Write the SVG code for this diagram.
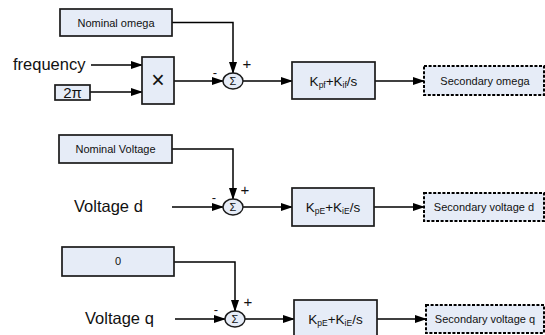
<svg xmlns="http://www.w3.org/2000/svg" width="545" height="335" viewBox="0 0 545 335">
<defs>
<marker id="ah" markerWidth="12" markerHeight="8" refX="11" refY="4" orient="auto" markerUnits="userSpaceOnUse">
<path d="M0,0 L12,4 L0,8 Z" fill="#000"/>
</marker>
<style>
.box{fill:#E6ECF7;stroke:#1a1a1a;stroke-width:1.7}
.dbox{fill:#E6ECF7;stroke:#000;stroke-width:2;stroke-dasharray:3 1.6}
.sum{fill:#E6ECF7;stroke:#1a1a1a;stroke-width:1.4}
.ln{fill:none;stroke:#000;stroke-width:1.5;marker-end:url(#ah)}
.t{font-family:"Liberation Sans",Arial,sans-serif;fill:#111}
.s11{font-size:11px}
.s13{font-size:13.5px}
.big{font-size:16.5px}
.sub{font-size:8.5px}
</style>
</defs>
<rect width="545" height="335" fill="#fff"/>

<g id="connectors">
<polyline class="ln" points="172,22.5 233,22.5 233,73"/>
<line class="ln" x1="91" y1="65" x2="142" y2="65"/>
<line class="ln" x1="90" y1="92" x2="142" y2="92"/>
<line class="ln" x1="174" y1="81" x2="223" y2="81"/>
<line class="ln" x1="243" y1="81" x2="292" y2="81"/>
<line class="ln" x1="375" y1="81" x2="424" y2="81"/>

<polyline class="ln" points="172,149 233,149 233,199"/>
<line class="ln" x1="172" y1="207" x2="223" y2="207"/>
<line class="ln" x1="243" y1="207" x2="292" y2="207"/>
<line class="ln" x1="374" y1="207" x2="424" y2="207"/>

<polyline class="ln" points="174,262 235,262 235,311"/>
<line class="ln" x1="175" y1="319" x2="225" y2="319"/>
<line class="ln" x1="245" y1="319" x2="294" y2="319"/>
<line class="ln" x1="377" y1="319" x2="426" y2="319"/>
</g>

<g id="nominal-omega"><rect class="box" x="60" y="9" width="112" height="27"/><text class="t s11" x="116" y="26.5" text-anchor="middle">Nominal omega</text></g>
<g id="frequency"><text class="t big" x="13" y="70">frequency</text></g>
<g id="two-pi"><rect class="box" x="55" y="85" width="35" height="15"/><text class="t" font-size="15" x="72.5" y="98" text-anchor="middle">2π</text></g>
<g id="multiply"><rect class="box" x="142" y="57" width="32" height="47"/><text class="t" font-size="23" x="158" y="88" text-anchor="middle">×</text></g>
<g id="sum1"><ellipse class="sum" cx="233" cy="81" rx="10" ry="8"/><text class="t" font-size="11" x="233" y="85" text-anchor="middle">Σ</text><text class="t" font-size="13" x="215" y="77" text-anchor="middle">-</text><text class="t" font-size="15" x="247" y="69" text-anchor="middle">+</text></g>
<g id="pi1"><rect class="box" x="292" y="62" width="83" height="37"/><text class="t s13" x="333.5" y="85.5" text-anchor="middle">K<tspan class="sub" dy="2">pf</tspan><tspan dy="-2">+K</tspan><tspan class="sub" dy="2">if</tspan><tspan dy="-2">/s</tspan></text></g>
<g id="sec-omega"><rect class="dbox" x="424" y="66" width="120" height="29"/><text class="t s11" x="485" y="84.5" text-anchor="middle">Secondary omega</text></g>

<g id="nominal-voltage"><rect class="box" x="59" y="135" width="113" height="28"/><text class="t s11" x="115.5" y="153" text-anchor="middle">Nominal Voltage</text></g>
<g id="voltage-d"><text class="t big" x="74" y="212">Voltage d</text></g>
<g id="sum2"><ellipse class="sum" cx="233" cy="207" rx="10" ry="8"/><text class="t" font-size="11" x="233" y="211" text-anchor="middle">Σ</text><text class="t" font-size="13" x="214" y="202" text-anchor="middle">-</text><text class="t" font-size="15" x="245" y="195" text-anchor="middle">+</text></g>
<g id="pi2"><rect class="box" x="292" y="188" width="82" height="38"/><text class="t s13" x="333" y="211.5" text-anchor="middle">K<tspan class="sub" dy="2">pE</tspan><tspan dy="-2">+K</tspan><tspan class="sub" dy="2">iE</tspan><tspan dy="-2">/s</tspan></text></g>
<g id="sec-voltage-d"><rect class="dbox" x="424" y="193" width="120" height="28"/><text class="t s11" x="484" y="211" text-anchor="middle">Secondary voltage d</text></g>

<g id="zero"><rect class="box" x="62" y="247" width="112" height="29"/><text class="t s11" x="118" y="265" text-anchor="middle">0</text></g>
<g id="voltage-q"><text class="t big" x="85" y="324">Voltage q</text></g>
<g id="sum3"><ellipse class="sum" cx="235" cy="319" rx="10" ry="8"/><text class="t" font-size="11" x="235" y="323" text-anchor="middle">Σ</text><text class="t" font-size="13" x="216" y="314" text-anchor="middle">-</text><text class="t" font-size="15" x="248" y="307" text-anchor="middle">+</text></g>
<g id="pi3"><rect class="box" x="294" y="300" width="83" height="38"/><text class="t s13" x="335.5" y="323.5" text-anchor="middle">K<tspan class="sub" dy="2">pE</tspan><tspan dy="-2">+K</tspan><tspan class="sub" dy="2">iE</tspan><tspan dy="-2">/s</tspan></text></g>
<g id="sec-voltage-q"><rect class="dbox" x="426" y="305" width="118" height="28"/><text class="t s11" x="485" y="323" text-anchor="middle">Secondary voltage q</text></g>
</svg>
